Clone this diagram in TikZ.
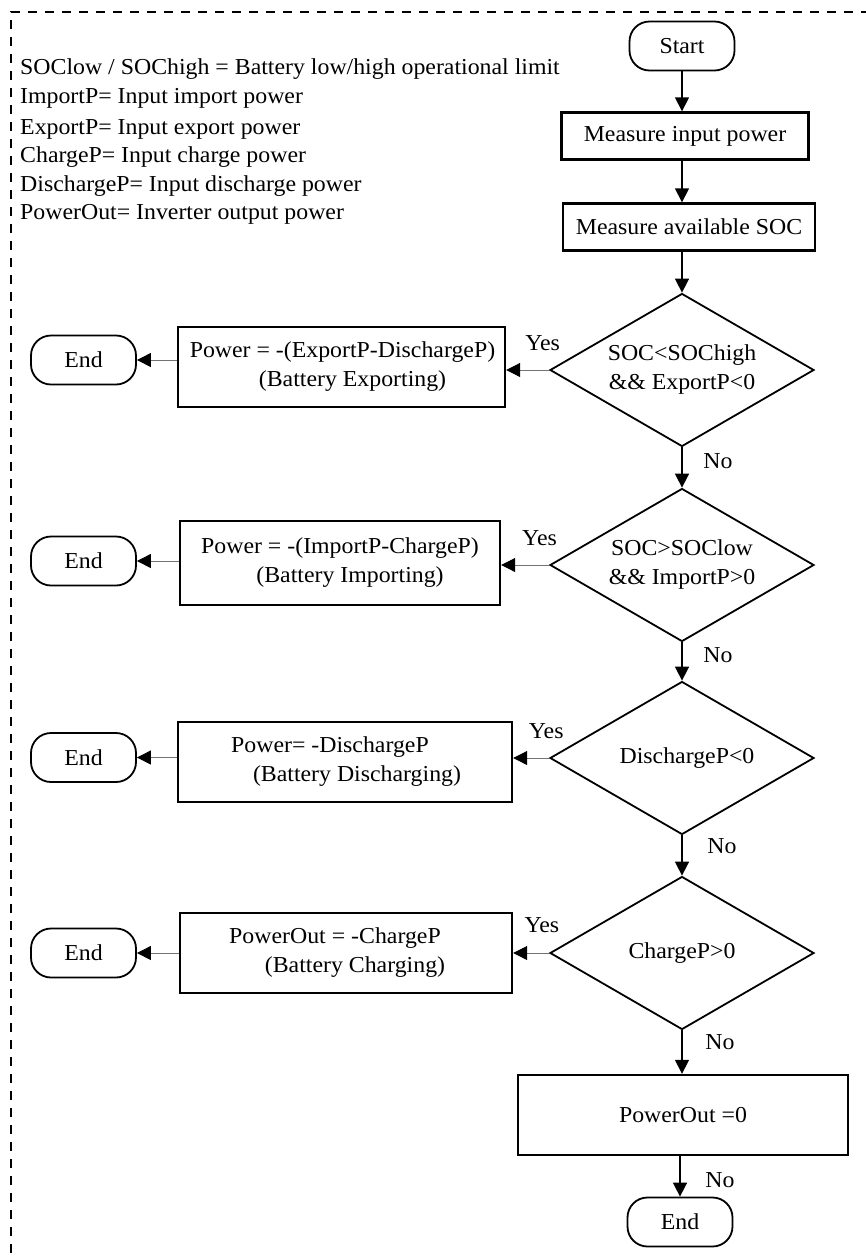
\documentclass[tikz,border=0pt]{standalone}
\usepackage{fontspec}
\setmainfont{Liberation Serif}[FakeStretch=1.045]
\usetikzlibrary{arrows.meta,shapes.geometric,calc}
\begin{document}
\begin{tikzpicture}[x=1pt,y=-1pt,
  every node/.style={font=\fontsize{22.8}{29}\selectfont, inner sep=0pt},
  term/.style={draw, line width=1.8pt, rounded corners=20pt,
    minimum width=105pt, minimum height=49pt},
  procbox/.style={draw, line width=2.4pt, align=center},
  decision/.style={draw, diamond, aspect=1.74, line width=1.8pt,
    minimum width=264pt, minimum height=153pt, align=center},
  tip/.style={-{Triangle[length=14pt,width=14pt,color=black,fill=black]}},
  flow/.style={tip, line width=1.6pt},
  side/.style={tip, line width=1pt, draw=black!55},
  frame/.style={line width=1.8pt, dash pattern=on 9pt off 8pt}
]
\useasboundingbox (0,0) rectangle (866,1259);

% outer dashed frame
\draw[frame] (11,1270) -- (11,12) -- (880,12);

% legend
\node[anchor=base west] (l1) at (20,74)  {SOClow / SOChigh = Battery low/high operational limit};
\node[anchor=base west] (l2) at (20,103) {ImportP= Input import power};
\node[anchor=base west] (l3) at (20,134) {ExportP= Input export power};
\node[anchor=base west] (l4) at (20,162) {ChargeP= Input charge power};
\node[anchor=base west] (l5) at (20,191) {DischargeP= Input discharge power};
\node[anchor=base west] (l6) at (20,219) {PowerOut= Inverter output power};

% main column
\node[term] (start) at (682,46) {Start};
\node[procbox, minimum width=247pt, minimum height=47pt] (m1) at (685,136) {Measure input power};
\node[procbox, minimum width=252pt, minimum height=47pt] (m2) at (689,227) {Measure available SOC};
\node[decision] (d1) at (682,370) {SOC<SOChigh\\\&\& ExportP<0};
\node[decision] (d2) at (682,565) {SOC>SOClow\\\&\& ImportP>0};
\node[decision] (d3) at (682,758) {\kern10pt DischargeP<0};
\node[decision] (d4) at (682,953) {ChargeP>0};
\node[procbox, minimum width=330pt, minimum height=80pt] (b0) at (683,1115) {PowerOut =0};
\node[term] (efin) at (680,1222) {End};

% branch actions
\node[procbox, minimum width=327pt, minimum height=80pt] (b1) at (341.5,367)
  {\hspace*{2pt}Power = -(ExportP-DischargeP)\\\hspace*{22pt}(Battery Exporting)};
\node[procbox, minimum width=320pt, minimum height=84pt] (b2) at (340,563)
  {Power = -(ImportP-ChargeP)\\\hspace*{20pt}(Battery Importing)};
\node[procbox, minimum width=334pt, minimum height=80pt] (b3) at (345,762)
  {Power= -DischargeP\kern30pt\\\hspace*{24pt}(Battery Discharging)};
\node[procbox, minimum width=332pt, minimum height=80pt] (b4) at (346,953)
  {PowerOut = -ChargeP\kern22pt\\\hspace*{18pt}(Battery Charging)};

% end terminals
\node[term] (e1) at (83.5,360)   {End};
\node[term] (e2) at (83.5,561)   {End};
\node[term] (e3) at (83.5,757.5) {End};
\node[term] (e4) at (83.5,953)   {End};

% main flow
\draw[flow] (start.south) -- (start.south |- m1.north);
\draw[flow] (m1.south -| start.south) -- (start.south |- m2.north);
\draw[flow] (m2.south -| d1.north) -- (d1.north);
\draw[flow] (d1.south) -- node[pos=0.33, xshift=36pt] {No} (d2.north);
\draw[flow] (d2.south) -- node[pos=0.34, xshift=36pt] {No} (d3.north);
\draw[flow] (d3.south) -- node[pos=0.26, xshift=40pt] {No} (d4.north);
\draw[flow] (d4.south) -- node[pos=0.27, xshift=38pt] {No} (d4.south |- b0.north);
\draw[flow] (b0.south -| efin.north) -- node[pos=0.6, xshift=40pt] {No} (efin.north);

% yes branches
\draw[side] (d1.west) -- node[pos=0.15, yshift=27pt] {Yes} (d1.west -| b1.east);
\draw[side] (d2.west) -- node[pos=0.2, yshift=27pt] {Yes} (d2.west -| b2.east);
\draw[side] (d3.west) -- node[pos=0.08, yshift=27pt] {Yes} (d3.west -| b3.east);
\draw[side] (d4.west) -- node[pos=0.2, yshift=28pt] {Yes} (d4.west -| b4.east);

% actions to end
\draw[side] (b1.west |- e1.east) -- (e1.east);
\draw[side] (b2.west |- e2.east) -- (e2.east);
\draw[side] (b3.west |- e3.east) -- (e3.east);
\draw[side] (b4.west |- e4.east) -- (e4.east);
\end{tikzpicture}
\end{document}
